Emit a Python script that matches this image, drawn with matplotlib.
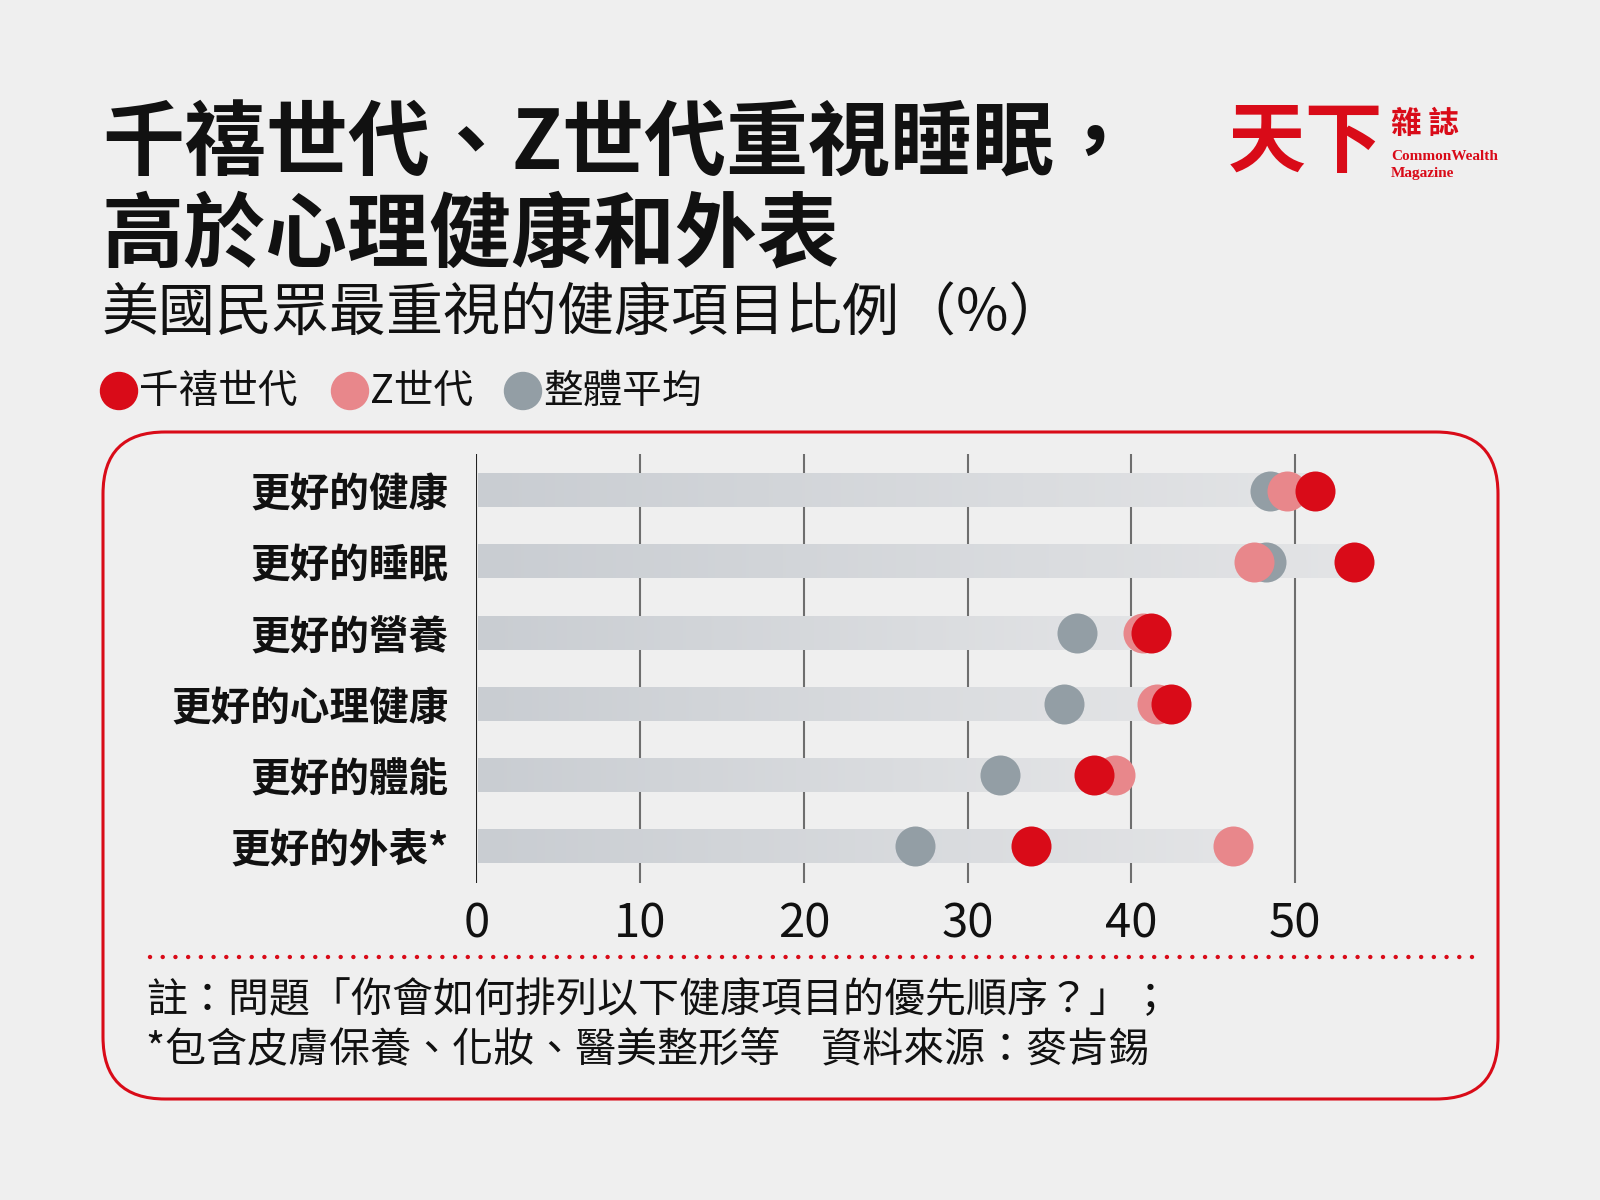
import numpy as np
import matplotlib
matplotlib.use("Agg")
import matplotlib.pyplot as plt
from matplotlib.patches import FancyBboxPatch, Circle
from matplotlib.colors import LinearSegmentedColormap

plt.rcParams['font.family'] = ['Noto Sans CJK TC', 'DejaVu Sans']

# data (% who rank the item as top priority)
categories = ['更好的健康', '更好的睡眠', '更好的營養', '更好的心理健康', '更好的體能', '更好的外表*']
millennials = [51.2, 53.6, 41.2, 42.4, 37.7, 33.9]
gen_z = [49.5, 47.5, 40.7, 41.6, 39.0, 46.2]
overall = [48.5, 48.2, 36.7, 35.9, 32.0, 26.8]
xticks = [0, 10, 20, 30, 40, 50]
legend_labels = ['千禧世代', 'Z世代', '整體平均']

RED = '#d90b18'
PINK = '#e8878b'
GRAY = '#939ea5'
BG = '#efefef'

fig = plt.figure(figsize=(16, 12), dpi=100)
fig.patch.set_facecolor(BG)

# overlay axes in pixel coordinates (y downwards)
ov = fig.add_axes([0, 0, 1, 1])
ov.set_xlim(0, 1600)
ov.set_ylim(1200, 0)
ov.axis('off')
ov.set_zorder(0)

# rounded red frame
box = FancyBboxPatch((103, 432), 1395, 667, boxstyle="round,pad=0,rounding_size=62",
                     fc='none', ec=RED, lw=2.2)
ov.add_patch(box)

# titles
ov.text(102, 146, '千禧世代、Z世代重視睡眠，', fontsize=59, fontweight='black',
        va='center', ha='left', color='#111111')
ov.text(102, 237, '高於心理健康和外表', fontsize=59, fontweight='black',
        va='center', ha='left', color='#111111')
ov.text(102, 314, '美國民眾最重視的健康項目比例（%）', fontsize=41, fontweight='light',
        va='center', ha='left', color='#111111')

# legend
leg_x = [119, 350, 523]
for lx, lab, col in zip(leg_x, legend_labels, [RED, PINK, GRAY]):
    ov.add_patch(Circle((lx, 391), 18.5, color=col))
    ov.text(lx + 20, 392, lab, fontsize=28.5, va='center', ha='left', color='#111111')

# logo
ov.text(1228, 143, '天下', fontsize=56, fontweight='black', color=RED, va='center', ha='left')
ov.text(1391, 124, '雜 誌', fontsize=22, fontweight='bold', color=RED, va='center', ha='left')
ov.text(1391, 157, 'CommonWealth', fontsize=11, fontweight='bold', color=RED,
        family='Liberation Serif', va='center', ha='left')
ov.text(1391, 174, 'Magazine', fontsize=11, fontweight='bold', color=RED,
        family='Liberation Serif', va='center', ha='left')

# dotted separator
ov.plot([150, 1472], [957, 957], color=RED, lw=3.2, linestyle=(0, (0.01, 2.85)),
        dash_capstyle='round')

# footer
ov.text(146, 1001, '註：問題「你會如何排列以下健康項目的優先順序？」；', fontsize=29.5,
        va='center', ha='left', color='#111111')
ov.text(146, 1050, '*包含皮膚保養、化妝、醫美整形等\u2002\u2002資料來源：麥肯錫', fontsize=29.5,
        va='center', ha='left', color='#111111')

# chart axes: 0 at x=476.5px, 16.37 px per unit
x0 = 476.5
ppu = 16.37
xmax = 60
ax = fig.add_axes([x0 / 1600, 1 - 883 / 1200, xmax * ppu / 1600, (883 - 454) / 1200])
ax.set_zorder(1)
ax.patch.set_alpha(0)
for s in ax.spines.values():
    s.set_visible(False)

for t in xticks:
    ax.axvline(t, color='#222222' if t == 0 else '#6e6e6e', lw=1.5, zorder=1)

bar_cmap = LinearSegmentedColormap.from_list('bar', ['#c9cdd2', '#e3e4e6'])
grad = np.linspace(0, 1, 256).reshape(1, -1)
bh = 0.465
y = np.arange(len(categories))
for i in range(len(categories)):
    end = max(millennials[i], gen_z[i], overall[i])
    ax.imshow(grad, cmap=bar_cmap, aspect='auto', interpolation='bicubic',
              extent=(0.12, end, i + bh / 2, i - bh / 2), zorder=2)

s = 830
ax.scatter(overall, y, s=s, color=GRAY, zorder=3, linewidths=0)
ax.scatter(gen_z, y, s=s, color=PINK, zorder=4, linewidths=0)
ax.scatter(millennials, y, s=s, color=RED, zorder=5, linewidths=0)
ax.set_xlim(0, xmax)
ax.set_ylim(5.52, -0.52)

ax.set_yticks(y)
ax.set_yticklabels(categories, fontsize=28.5, fontweight='bold', color='#111111')
ax.tick_params(axis='y', length=0, pad=20)
ax.set_xticks(xticks)
ax.set_xticklabels([str(t) for t in xticks], fontsize=34, color='#111111')
ax.tick_params(axis='x', length=0, pad=12)

fig.savefig('out.png', dpi=100, facecolor=BG)
